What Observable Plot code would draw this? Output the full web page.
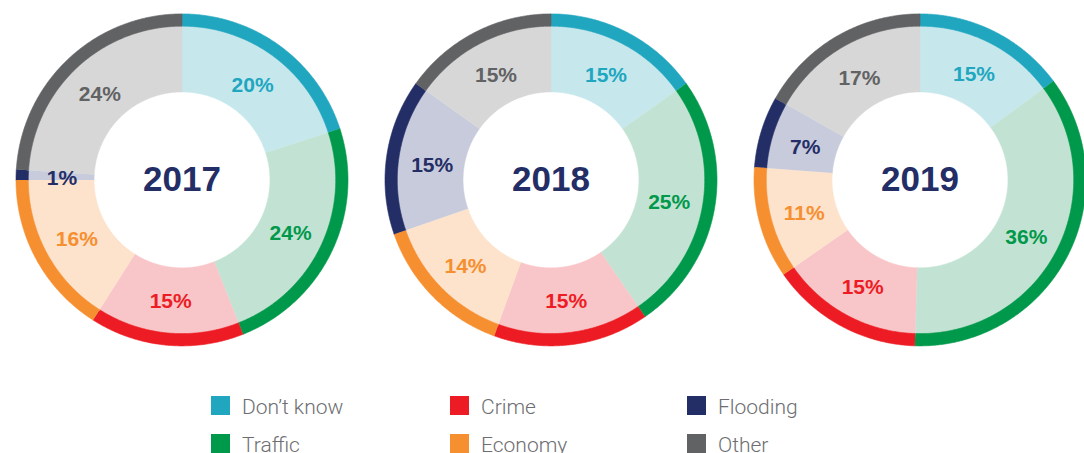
<!DOCTYPE html>
<html>
<head>
<meta charset="utf-8">
<script src="https://cdn.jsdelivr.net/npm/d3@7"></script>
<script src="https://cdn.jsdelivr.net/npm/@observablehq/plot@0.6"></script>
<style>
  html, body { margin: 0; padding: 0; background: #fff; width: 1084px; height: 453px; overflow: hidden; }
  #chart svg { display: block; }
  .legend {
    display: grid;
    grid-template-columns: 239px 237px auto;
    grid-template-rows: 19px 19px;
    grid-auto-flow: column;
    row-gap: 19px;
    padding-left: 211px;
    padding-top: 26px;
    font-family: Roboto, "Liberation Sans", sans-serif;
    font-weight: 300;
    font-size: 21px;
    color: #6d6e71;
  }
  .legend .item { display: flex; align-items: center; height: 19px; line-height: 19px; white-space: nowrap; }
  .legend .sw { width: 19px; height: 19px; margin-right: 12px; flex: none; }
  .legend .lbl { position: relative; top: 2px; }
</style>
</head>
<body>
<div id="chart"></div>
<script>
// ---- data ----
const years = ["2017", "2018", "2019"];
const categories = ["Don\u2019t know", "Traffic", "Crime", "Economy", "Flooding", "Other"];
const values2017 = [20, 24, 15, 16, 1, 24];
const values2018 = [15, 25, 15, 14, 15, 15];
const values2019 = [15, 36, 15, 11, 7, 17];
const ringColors = ["#21a6c0", "#00984a", "#ed1c24", "#f68f2f", "#232d66", "#616264"];
const paleColors = ["#c6e8ed", "#c2e3d3", "#f8c6c8", "#fde2cc", "#c8cbdb", "#d7d7d7"];
const seriesByYear = [values2017, values2018, values2019];

// ---- build slice polygons and labels from the data ----
const R_OUT = 1, R_RING = 0.926, R_IN = 0.53, R_LABEL = 0.723;
const polys = [];
const labels = [];
years.forEach((year, yi) => {
  const vals = seriesByYear[yi];
  const total = d3.sum(vals);
  let cum = 0;
  vals.forEach((v, ci) => {
    const a0 = cum / total * 2 * Math.PI;
    const a1 = (cum + v) / total * 2 * Math.PI;
    cum += v;
    const layers = [
      {id: "pale", r0: R_IN, r1: R_RING + 0.004, color: paleColors[ci]},
      {id: "ring", r0: R_RING, r1: R_OUT, color: ringColors[ci]}
    ];
    for (const L of layers) {
      const n = Math.max(2, Math.ceil((a1 - a0) / (Math.PI / 360)));
      const id = year + "|" + ci + "|" + L.id;
      for (let i = 0; i <= n; i++) {
        const a = a0 + (a1 - a0) * i / n;
        polys.push({id, year, color: L.color, x: L.r1 * Math.sin(a), y: L.r1 * Math.cos(a)});
      }
      for (let i = n; i >= 0; i--) {
        const a = a0 + (a1 - a0) * i / n;
        polys.push({id, year, color: L.color, x: L.r0 * Math.sin(a), y: L.r0 * Math.cos(a)});
      }
    }
    const am = (a0 + a1) / 2;
    labels.push({year, text: v + "%", color: ringColors[ci], x: R_LABEL * Math.sin(am), y: R_LABEL * Math.cos(am)});
  });
});
const centers = years.map(year => ({year, x: 0, y: 0, text: year}));

const chart = Plot.plot({
  width: 1084,
  height: 370,
  margin: 0,
  style: {background: "#fff", overflow: "visible"},
  fx: {domain: years, range: [-3.5, 1103.5], padding: 0, axis: null},
  x: {domain: [-184.5 / 166, 184.5 / 166], axis: null},
  y: {domain: [-(370 - 179.4) / 166, 179.4 / 166], axis: null},
  color: {type: "identity"},
  marks: [
    Plot.line(polys, {x: "x", y: "y", z: "id", fx: "year", fill: "color", stroke: "color", strokeWidth: 0.6, curve: "linear"}),
    Plot.text(labels, {x: "x", y: "y", fx: "year", text: "text", fill: "color", dy: 2,
      fontSize: 21, fontWeight: "bold", fontFamily: "Liberation Sans, Arial, sans-serif"}),
    Plot.text(centers, {x: "x", y: "y", fx: "year", text: "text", fill: "#232d66",
      fontSize: 35, fontWeight: "bold", fontFamily: "Liberation Sans, Arial, sans-serif"})
  ]
});
document.getElementById("chart").appendChild(chart);

// ---- legend ----
const legend = document.createElement("div");
legend.className = "legend";
categories.forEach((c, i) => {
  const item = document.createElement("div");
  item.className = "item";
  const sw = document.createElement("span");
  sw.className = "sw";
  sw.style.background = ringColors[i];
  const t = document.createElement("span");
  t.className = "lbl";
  t.textContent = c;
  item.appendChild(sw);
  item.appendChild(t);
  legend.appendChild(item);
});
document.body.appendChild(legend);
</script>
</body>
</html>
